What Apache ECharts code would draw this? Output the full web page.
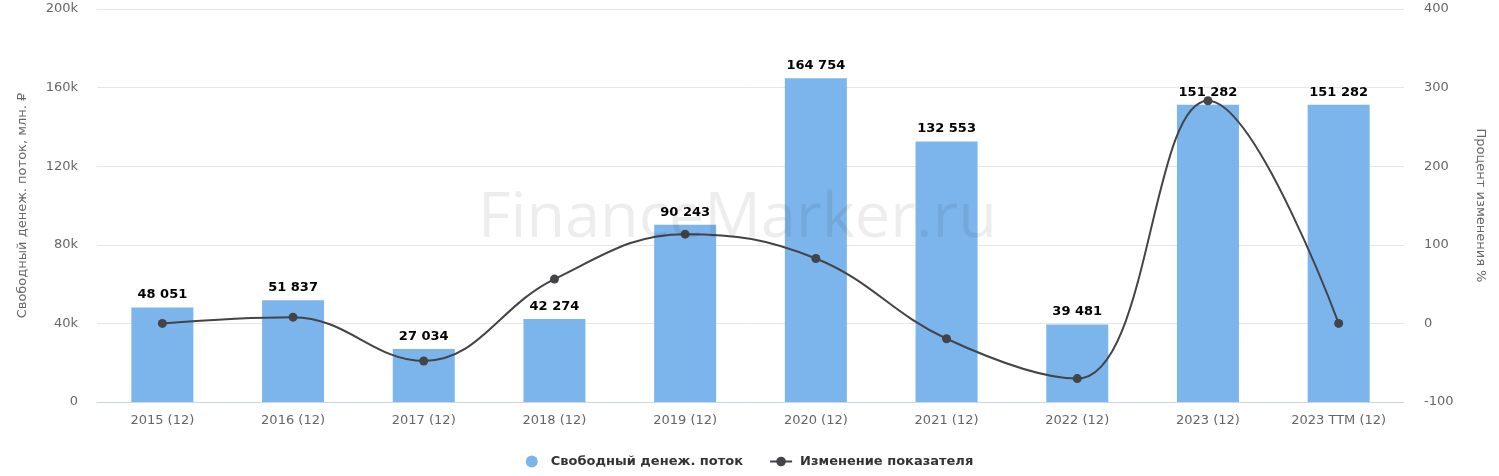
<!DOCTYPE html>
<html><head><meta charset="utf-8">
<script src="https://cdn.jsdelivr.net/npm/echarts@6/dist/echarts.min.js"></script>
<style>html,body{margin:0;padding:0;background:#fff}#c{width:1499px;height:476px}</style>
</head><body><div id="c"></div>
<script>
const categories = ['2015 (12)','2016 (12)','2017 (12)','2018 (12)','2019 (12)','2020 (12)','2021 (12)','2022 (12)','2023 (12)','2023 TTM (12)'];
const fcf = [48051, 51837, 27034, 42274, 90243, 164754, 132553, 39481, 151282, 151282];
const change = [0, 7.9, -47.8, 56.4, 113.5, 82.6, -19.5, -70.2, 283.2, 0];
const leftTicks = [0, 40000, 80000, 120000, 160000, 200000];

const fmt = v => String(v).replace(/\B(?=(\d{3})+(?!\d))/g, ' ');
const font = '"DejaVu Sans", Verdana, sans-serif';
const wfont = '"Open Sans", sans-serif';
const chart = echarts.init(document.getElementById('c'));
chart.setOption({
  animation: false,
  textStyle: {fontFamily: font},
  grid: {left: 97, right: 95, top: 9, bottom: 74, containLabel: false},
  legend: {
    bottom: 3, left: 'center', itemGap: 26, itemWidth: 22, itemHeight: 12,
    symbolKeepAspect: true,
    textStyle: {fontSize: 13, fontWeight: 'bold', color: '#333', fontFamily: font, padding: [0, 0, 0, 3]},
    data: [{name: 'Свободный денеж. поток', icon: 'circle'}, {name: 'Изменение показателя'}]
  },
  xAxis: {
    type: 'category', data: categories,
    axisLine: {lineStyle: {color: '#ccd6eb', width: 1}},
    axisTick: {show: false},
    axisLabel: {color: '#666', fontSize: 13, margin: 12, fontFamily: font}
  },
  yAxis: [{
    type: 'value', min: 0, max: 200000, interval: 40000,
    name: 'Свободный денеж. поток, млн. ₽', nameLocation: 'middle', nameGap: 68,
    nameTextStyle: {color: '#666', fontSize: 13, fontFamily: font},
    axisLabel: {color: '#666', fontSize: 13, margin: 19, fontFamily: font,
      formatter: v => v === 0 ? '0' : (v / 1000) + 'k'},
    splitLine: {lineStyle: {color: '#e6e6e6'}}
  }, {
    type: 'value', min: -100, max: 400, interval: 100,
    name: 'Процент изменения %', nameLocation: 'middle', nameGap: 70, nameRotate: -90,
    nameTextStyle: {color: '#666', fontSize: 13, fontFamily: font},
    axisLabel: {color: '#666', fontSize: 13, margin: 20, fontFamily: font},
    splitLine: {lineStyle: {color: '#e6e6e6'}}
  }],
  series: [{
    name: 'Свободный денеж. поток', type: 'bar', data: fcf, barWidth: 62,
    itemStyle: {color: '#7cb5ec'}, z: 2,
    label: {show: true, position: 'top', distance: 6, formatter: p => fmt(p.value),
      color: '#000', fontWeight: 'bold', fontSize: 13, fontFamily: font,
      textBorderColor: '#fff', textBorderWidth: 2}
  }, {
    name: 'Изменение показателя', type: 'line', yAxisIndex: 1, data: change,
    smooth: 0.4, symbol: 'circle', symbolSize: 9,
    lineStyle: {color: '#434348', width: 2}, itemStyle: {color: '#434348'}, z: 3
  }],
  graphic: [{
    type: 'text', left: 478, top: 188, z: 100, silent: true,
    style: {text: 'FinanceMarker.ru', fontSize: 63, fontFamily: wfont, fill: 'rgba(0,0,0,0.07)'}
  }]
});
</script></body></html>
